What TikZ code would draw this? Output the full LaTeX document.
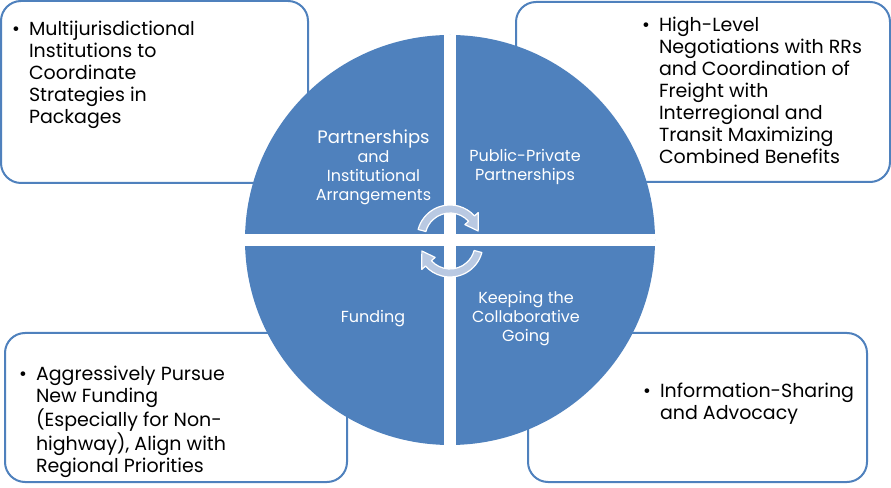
\documentclass[tikz,border=0pt]{standalone}
\usepackage{fontspec}
\setmainfont{Poppins}
\definecolor{cycleblue}{HTML}{4F81BD}
\definecolor{turnfill}{HTML}{B9C9E2}
\tikzset{
  notebox/.style={draw=cycleblue, line width=2pt, rounded corners=20pt, fill=white, inner sep=0pt},
  notetext/.style={anchor=north west, inner sep=0pt, text=black, font=\fontsize{19}{22}\selectfont},
  quadlabel/.style={inner sep=0pt, align=center, text=white, font=\fontsize{16}{19}\selectfont},
  turnarrow/.style={fill=turnfill, draw=white, line width=1.2pt, line join=round},
}
\newcommand{\itemrows}[1]{\begin{tabular}{@{}l@{\hspace{9pt}}l@{}}#1\end{tabular}}
\begin{document}
\begin{tikzpicture}[x=1pt, y=1pt]
  \useasboundingbox (0,0) rectangle (891,487);
  % Side boxes (behind the circle)
  \node[notebox, minimum width=307pt, minimum height=182pt] (infoTL) at (154.5,395) {};
  \node[notebox, minimum width=374pt, minimum height=180pt] (infoTR) at (703,395) {};
  \node[notebox, minimum width=342pt, minimum height=149pt] (infoBL) at (176,79.5) {};
  \node[notebox, minimum width=339pt, minimum height=149pt] (infoBR) at (697.5,79.5) {};

  % Box texts
  \node[notetext] (textTL) at (12,467.4) {\itemrows{\textbullet & Multijurisdictional\\
    & Institutions to\\ & Coordinate\\ & Strategies in\\ & Packages}};
  \node[notetext] (textTR) at (642,471.4) {\itemrows{\textbullet & High-Level\\
    & Negotiations with RRs\\ & and Coordination of\\ & Freight with\\
    & Interregional and\\ & Transit Maximizing\\ & Combined Benefits}};
  \node[notetext] (textBL) at (19,122.4) {\itemrows{\textbullet & Aggressively Pursue\\
    & New Funding\\ & (Especially for Non-\\ & highway), Align with\\ & Regional Priorities}};
  \node[notetext] (textBR) at (643,105.4) {\itemrows{\textbullet & Information-Sharing\\
    & and Advocacy}};

  % The circle cut in four
  \node[circle, fill=cycleblue, minimum size=410pt, inner sep=0pt] (hub) at (450,247) {};
  \fill[white] ([xshift=-6.25pt]hub.north) rectangle ([xshift=6.25pt]hub.south);
  \fill[white] ([yshift=-6.25pt]hub.west) rectangle ([yshift=6.25pt]hub.east);

  % Quadrant labels
  \node[quadlabel, anchor=north] (labPIA) at (373.5,357)
    {{\fontsize{18}{19}\selectfont Partnerships}\\ and\\ Institutional\\ Arrangements};
  \node[quadlabel, anchor=north] (labPPP) at (525,338) {Public-Private\\ Partnerships};
  \node[quadlabel, anchor=base] (labFund) at (373,164) {Funding};
  \node[quadlabel, anchor=north] (labKeep) at (526,195.5) {Keeping the\\ Collaborative\\ Going};

  % Turning arrows in the middle
  \foreach \turn in {0,180}{
    \begin{scope}[rotate around={\turn:(450,246)}, shift={(450,249)}]
      \draw[turnarrow] (165:33) arc[start angle=165, end angle=42, radius=33]
        -- (42:38) -- (14:29) -- (42:20) -- (42:25)
        arc[start angle=42, end angle=165, radius=25] -- cycle;
    \end{scope}
  }
\end{tikzpicture}
\end{document}
